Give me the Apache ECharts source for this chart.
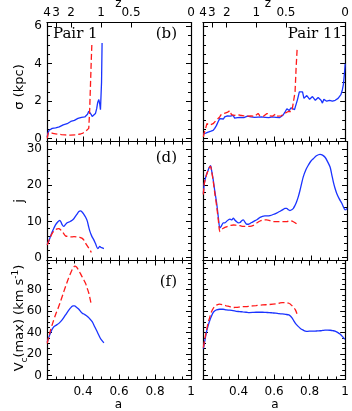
<!DOCTYPE html>
<html>
<head>
<meta charset="utf-8">
<script src="https://cdn.jsdelivr.net/npm/echarts@6/dist/echarts.min.js"></script>
<style>
html, body { margin: 0; padding: 0; background: #fff; }
#chart { width: 352px; height: 411px; }
</style>
</head>
<body>
<div id="chart"></div>
<script>
// bottom axis: scale factor a, top axis: redshift z
const aMajor = [0.2, 0.4, 0.6, 0.8, 1.0]
const aLabels = ['', '0.4', '0.6', '0.8', '1']
const zValues = [4, 3, 2, 1, 0.5, 0]
const zLabels = ['4', '3', '2', '1', '0.5', '0']

// y ticks for the three rows
const sigmaTicks = [0, 2, 4, 6]
const sigmaLabels = ['0', '2', '4', '6']
const jTicks = [0, 10, 20, 30]
const jLabels = ['0', '10', '20', '30']
const vcTicks = [0, 20, 40, 60, 80, 100]
const vcLabels = ['0', '20', '40', '60', '80', '']

const panelNames = ['Pair 1', 'Pair 11']
const panelTags = ['(b)', '(d)', '(f)']

// Pair 1 : [a, value]
const p1SigmaBlue = [[0.201,0.08],[0.205,0.3],[0.212,0.45],[0.222,0.5],[0.229,0.55],[0.238,0.6],[0.248,0.58],[0.258,0.66],[0.268,0.63],[0.278,0.72],[0.29,0.74],[0.3,0.78],[0.312,0.8],[0.322,0.86],[0.332,0.92],[0.342,0.9],[0.352,0.98],[0.362,1.05],[0.372,1.08],[0.382,1.05],[0.392,1.14],[0.402,1.18],[0.41,1.16],[0.418,1.26],[0.425,1.3],[0.432,1.47],[0.438,1.4],[0.445,1.3],[0.451,1.18],[0.458,1.24],[0.469,1.34],[0.476,1.6],[0.482,1.95],[0.488,2.09],[0.493,1.85],[0.497,1.55],[0.501,1.52],[0.503,3.0],[0.506,5.1]]
const p1SigmaRed = [[0.201,0.02],[0.207,0.3],[0.213,0.4],[0.22,0.35],[0.232,0.28],[0.247,0.26],[0.262,0.24],[0.28,0.22],[0.3,0.2],[0.33,0.19],[0.36,0.2],[0.386,0.25],[0.4,0.3],[0.414,0.39],[0.424,0.46],[0.432,0.55],[0.437,1.5],[0.442,3.0],[0.446,4.2],[0.449,5.0]]
const p1JBlue = [[0.201,3.6],[0.21,4.6],[0.219,5.8],[0.228,7.0],[0.238,8.1],[0.248,9.1],[0.257,9.7],[0.265,10.1],[0.271,10.3],[0.278,9.8],[0.284,9.1],[0.293,8.6],[0.302,9.1],[0.312,9.6],[0.326,9.9],[0.34,10.3],[0.35,10.8],[0.358,11.4],[0.368,12.1],[0.377,12.7],[0.386,12.9],[0.395,12.6],[0.404,12.0],[0.414,11.2],[0.423,10.2],[0.43,8.8],[0.438,7.3],[0.448,6.0],[0.46,4.9],[0.47,3.8],[0.482,2.5],[0.488,2.8],[0.493,3.1],[0.5,2.8],[0.507,2.7],[0.516,2.5]]
const p1JRed = [[0.201,3.5],[0.21,4.6],[0.219,5.7],[0.228,6.6],[0.238,7.3],[0.247,7.7],[0.257,7.9],[0.266,8.0],[0.275,7.7],[0.284,7.2],[0.293,6.6],[0.303,6.0],[0.317,5.8],[0.331,5.7],[0.35,5.8],[0.368,5.7],[0.382,5.6],[0.396,5.3],[0.405,4.8],[0.414,4.0],[0.423,3.3],[0.432,2.6],[0.44,2.0],[0.446,1.4]]
const p1VcBlue = [[0.201,31],[0.21,35.5],[0.219,39.5],[0.228,43],[0.238,45.5],[0.252,47],[0.266,48.6],[0.284,51.8],[0.303,56.5],[0.321,61],[0.335,63.8],[0.345,64.9],[0.353,64.9],[0.365,63.5],[0.377,61.8],[0.386,59.8],[0.396,58.1],[0.41,56.8],[0.423,55.3],[0.437,53],[0.451,50.2],[0.465,45.5],[0.479,40.7],[0.488,37.5],[0.497,34.5],[0.507,32.2],[0.516,30.4]]
const p1VcRed = [[0.201,30],[0.21,36],[0.219,42],[0.233,49.5],[0.247,56.5],[0.261,62.5],[0.275,69],[0.289,76],[0.303,83],[0.317,89.5],[0.331,95.5],[0.345,100.5],[0.355,102],[0.365,101],[0.375,98.5],[0.386,95],[0.4,90.5],[0.414,86],[0.423,81.5],[0.432,77],[0.44,71],[0.446,66]]

// Pair 11 : [a, value]
const p11SigmaBlue = [[0.202,0.26],[0.215,0.3],[0.229,0.35],[0.245,0.4],[0.257,0.44],[0.266,0.55],[0.276,0.71],[0.285,0.9],[0.294,1.07],[0.305,1.12],[0.315,1.05],[0.322,1.16],[0.33,1.1],[0.338,1.22],[0.346,1.12],[0.354,1.2],[0.362,1.15],[0.37,1.24],[0.378,1.1],[0.386,1.18],[0.394,1.12],[0.402,1.2],[0.41,1.14],[0.42,1.22],[0.43,1.12],[0.44,1.18],[0.45,1.2],[0.46,1.12],[0.47,1.16],[0.48,1.22],[0.49,1.14],[0.5,1.2],[0.51,1.15],[0.52,1.22],[0.53,1.16],[0.54,1.2],[0.55,1.14],[0.56,1.18],[0.57,1.12],[0.58,1.2],[0.59,1.16],[0.6,1.22],[0.61,1.14],[0.62,1.2],[0.63,1.12],[0.64,1.18],[0.65,1.25],[0.66,1.4],[0.672,1.6],[0.685,1.5],[0.695,1.65],[0.705,1.7],[0.715,1.55],[0.725,1.6],[0.732,2.1],[0.742,2.5],[0.752,2.6],[0.76,2.5],[0.768,2.15],[0.776,2.05],[0.784,2.3],[0.792,2.35],[0.8,2.1],[0.808,2.0],[0.816,2.25],[0.824,2.3],[0.832,2.05],[0.84,1.95],[0.848,2.2],[0.856,2.25],[0.864,2.05],[0.872,1.9],[0.88,2.1],[0.888,2.2],[0.896,2.0],[0.904,1.9],[0.912,2.05],[0.92,2.15],[0.928,2.0],[0.936,1.95],[0.944,2.05],[0.952,2.06],[0.96,2.15],[0.968,2.2],[0.976,2.35],[0.984,2.6],[0.99,2.9],[0.995,3.4],[1.0,4.0]]
const p11SigmaRed = [[0.202,0.1],[0.208,0.35],[0.215,0.55],[0.222,0.8],[0.229,0.75],[0.238,0.72],[0.248,0.78],[0.257,0.8],[0.267,0.9],[0.276,1.0],[0.285,1.1],[0.294,1.16],[0.303,1.3],[0.312,1.22],[0.32,1.35],[0.328,1.25],[0.336,1.4],[0.344,1.3],[0.352,1.5],[0.36,1.28],[0.368,1.38],[0.376,1.25],[0.384,1.35],[0.392,1.28],[0.4,1.3],[0.41,1.25],[0.42,1.35],[0.43,1.22],[0.44,1.3],[0.45,1.2],[0.46,1.28],[0.47,1.22],[0.48,1.3],[0.49,1.2],[0.5,1.26],[0.51,1.35],[0.52,1.22],[0.53,1.3],[0.54,1.2],[0.55,1.28],[0.56,1.35],[0.57,1.22],[0.58,1.3],[0.59,1.2],[0.6,1.25],[0.61,1.32],[0.62,1.2],[0.63,1.28],[0.64,1.22],[0.65,1.3],[0.66,1.35],[0.67,1.4],[0.68,1.45],[0.69,1.4],[0.7,1.45],[0.71,1.52],[0.718,2.5],[0.724,3.8],[0.73,4.85]]
const p11JBlue = [[0.202,17.6],[0.206,20],[0.211,21.4],[0.22,23.0],[0.229,24.2],[0.236,25.0],[0.242,25.4],[0.248,24.0],[0.257,21.4],[0.266,18.2],[0.276,15.0],[0.285,11.2],[0.294,8.2],[0.303,8.8],[0.313,9.6],[0.322,9.6],[0.331,10.0],[0.34,10.4],[0.35,10.6],[0.36,10.4],[0.369,10.9],[0.378,10.3],[0.387,9.9],[0.396,9.6],[0.406,9.7],[0.415,10.2],[0.424,10.4],[0.433,9.8],[0.443,9.2],[0.452,9.2],[0.461,9.4],[0.475,9.8],[0.489,10.2],[0.503,10.6],[0.517,11.1],[0.53,11.4],[0.544,11.5],[0.558,11.5],[0.572,11.6],[0.59,11.9],[0.609,12.3],[0.628,12.8],[0.646,13.3],[0.655,13.6],[0.665,13.6],[0.674,13.2],[0.683,13.0],[0.693,13.2],[0.702,13.6],[0.711,14.4],[0.72,15.4],[0.73,16.9],[0.739,18.6],[0.748,20.5],[0.757,22.3],[0.771,24.2],[0.785,25.5],[0.799,26.6],[0.813,27.3],[0.83,28.1],[0.85,28.5],[0.864,28.3],[0.878,27.7],[0.892,26.5],[0.906,25.0],[0.915,23.0],[0.924,20.9],[0.933,19.2],[0.943,17.7],[0.957,16.2],[0.971,15.0],[0.98,14.0],[0.989,13.2],[0.995,13.3],[1.0,13.6]]
const p11JRed = [[0.202,17.4],[0.206,19.8],[0.211,21.3],[0.22,22.9],[0.229,24.1],[0.236,24.9],[0.242,25.2],[0.248,23.8],[0.257,21.0],[0.266,17.6],[0.276,14.2],[0.285,10.4],[0.294,7.2],[0.303,7.8],[0.313,8.1],[0.325,8.4],[0.34,8.7],[0.355,8.9],[0.369,9.0],[0.387,8.9],[0.406,8.8],[0.424,8.6],[0.443,8.6],[0.461,8.6],[0.48,8.9],[0.498,9.5],[0.517,10.1],[0.535,10.4],[0.554,10.4],[0.572,10.2],[0.59,9.95],[0.609,9.95],[0.628,9.95],[0.646,9.95],[0.665,9.95],[0.683,10.2],[0.702,9.9],[0.72,9.3],[0.73,8.6]]
const p11VcBlue = [[0.202,25],[0.211,33],[0.22,40.8],[0.229,46.5],[0.239,51.8],[0.248,55.5],[0.257,58.7],[0.267,60.3],[0.276,61.2],[0.294,61.8],[0.313,61.8],[0.331,61.2],[0.35,60.9],[0.369,60.5],[0.387,59.9],[0.406,59.6],[0.424,59.3],[0.443,59],[0.461,58.7],[0.48,58.8],[0.498,59.0],[0.517,59.0],[0.535,59.0],[0.554,58.8],[0.572,58.7],[0.59,58.4],[0.609,58.1],[0.628,57.7],[0.646,57.4],[0.665,57.0],[0.683,56.5],[0.693,55.3],[0.702,53.4],[0.711,51],[0.72,48.6],[0.734,46],[0.748,43.9],[0.762,42.5],[0.776,41.4],[0.79,41.2],[0.804,41.4],[0.818,41.3],[0.831,41.4],[0.845,41.6],[0.859,41.7],[0.873,42],[0.887,42.3],[0.901,42.3],[0.915,42.2],[0.929,41.8],[0.943,41.4],[0.957,40.2],[0.971,38.6],[0.985,36.2],[0.998,33.6]]
const p11VcRed = [[0.202,26],[0.211,34.5],[0.22,42.3],[0.229,49],[0.239,54.9],[0.248,59.5],[0.257,62.5],[0.267,64.3],[0.276,65.6],[0.294,66.5],[0.313,65.8],[0.331,65],[0.35,64.2],[0.369,63.4],[0.387,63.6],[0.406,63.9],[0.424,64.2],[0.443,64.3],[0.461,64.6],[0.498,65.2],[0.535,65.8],[0.572,66.2],[0.609,66.8],[0.628,67.4],[0.646,68.0],[0.665,68],[0.683,67.4],[0.693,66.3],[0.702,64.9],[0.711,63.2],[0.72,61.2],[0.73,57]]

const BLUE = '#1a33ff'
const RED = '#ff1a1a'
const FONT = 'DejaVu Sans'

// layout of the 3x2 panels
const colLeft = [47, 203]
const panelW = 144
const rows = [
  { top: 22.5, h: 119, min: -0.15, max: 6.2, major: sigmaTicks, labels: sigmaLabels, step: 0.5,
    blue: [p1SigmaBlue, p11SigmaBlue], red: [p1SigmaRed, p11SigmaRed], smooth: false },
  { top: 141.5, h: 119, min: -0.8, max: 32.05, major: jTicks, labels: jLabels, step: 2,
    blue: [p1JBlue, p11JBlue], red: [p1JRed, p11JRed], smooth: 0.3 },
  { top: 260.5, h: 119, min: -3.8, max: 107.3, major: vcTicks, labels: vcLabels, step: 5,
    blue: [p1VcBlue, p11VcBlue], red: [p1VcRed, p11VcRed], smooth: 0.3 }
]

const zPos = zValues.map(z => 1 / (1 + z))

const minorList = (min, max, step) => {
  const out = []
  for (let v = Math.ceil(min / step) * step; v <= max + 1e-9; v += step) out.push(+v.toFixed(4))
  return out
}
const pick = (vals, labels) => v => {
  const i = vals.findIndex(t => Math.abs(t - v) < 1e-4)
  return i < 0 ? '' : labels[i]
}

const line = { onZero: false, lineStyle: { color: '#000', width: 1.2 } }
const tickStyle = { color: '#000', width: 1 }
const labelStyle = { color: '#000', fontFamily: FONT, fontSize: 12 }

const grid = [], xAxis = [], yAxis = [], series = []

rows.forEach((row, r) => {
  colLeft.forEach((left, c) => {
    const g = grid.length
    grid.push({ left: left, top: row.top, width: panelW, height: row.h })

    // bottom a axis
    const xi = xAxis.length
    xAxis.push({
      gridIndex: g, type: 'value', position: 'bottom', min: 0.2, max: 1, interval: 0.2,
      axisLine: line, splitLine: { show: false },
      axisTick: { inside: true, length: 5, lineStyle: tickStyle },
      minorTick: { show: true, splitNumber: 4, length: 3, lineStyle: tickStyle },
      axisLabel: r === 2
        ? Object.assign({ margin: 6, formatter: pick(aMajor, aLabels) }, labelStyle)
        : { show: false }
    })
    // top axis: z on the first row, mirrored a ticks below
    if (r === 0) {
      xAxis.push({
        gridIndex: g, type: 'value', position: 'top', min: 0.2, max: 1,
        axisLine: line, splitLine: { show: false },
        axisTick: { inside: true, length: 5, lineStyle: tickStyle, customValues: zPos },
        axisLabel: Object.assign({ margin: 4, customValues: zPos, formatter: pick(zPos, zLabels) }, labelStyle)
      })
    } else {
      xAxis.push({
        gridIndex: g, type: 'value', position: 'top', min: 0.2, max: 1, interval: 0.2,
        axisLine: line, splitLine: { show: false },
        axisTick: { inside: true, length: 5, lineStyle: tickStyle },
        minorTick: { show: true, splitNumber: 4, length: 3, lineStyle: tickStyle },
        axisLabel: { show: false }
      })
    }

    const minor = minorList(row.min, row.max, row.step).filter(v => !row.major.includes(v))
    const yi = yAxis.length
    ;['left', 'right'].forEach(pos => {
      yAxis.push({
        gridIndex: g, type: 'value', position: pos, min: row.min, max: row.max,
        axisLine: line, splitLine: { show: false },
        axisTick: { inside: true, length: 5, lineStyle: tickStyle, customValues: row.major },
        axisLabel: (pos === 'left' && c === 0)
          ? Object.assign({ margin: 5, customValues: row.major, formatter: pick(row.major, row.labels) }, labelStyle)
          : { show: false }
      })
      yAxis.push({
        gridIndex: g, type: 'value', position: pos, min: row.min, max: row.max,
        axisLine: { show: false }, splitLine: { show: false },
        axisTick: { inside: true, length: 3, lineStyle: tickStyle, customValues: minor },
        axisLabel: { show: false }
      })
    })

    series.push({
      type: 'line', xAxisIndex: xi, yAxisIndex: yi, data: row.blue[c],
      showSymbol: false, smooth: row.smooth, silent: true,
      lineStyle: { color: BLUE, width: 1.3 }
    })
    series.push({
      type: 'line', xAxisIndex: xi, yAxisIndex: yi, data: row.red[c],
      showSymbol: false, smooth: row.smooth, silent: true,
      lineStyle: { color: RED, width: 1.3, type: [6, 3] }
    })
  })
})

const txt = (x, y, text, align, extra) => ({
  type: 'text', x: x, y: y, silent: true,
  style: Object.assign({
    text: text, fill: '#000', font: '12px ' + FONT,
    align: align, textAlign: align, verticalAlign: 'middle', textVerticalAlign: 'middle'
  }, extra || {})
})
const serif = { font: '15px "DejaVu Serif"' }
const rotTitle = (y, text, rich) => Object.assign(txt(20, y, text, 'center', { font: '13px ' + FONT, rich: rich }), { rotation: Math.PI / 2 })

const graphic = [
  txt(118.5, 4, 'z', 'center'),
  txt(268, 4, 'z', 'center'),
  txt(118.5, 405, 'a', 'center'),
  txt(275, 405, 'a', 'center'),
  txt(53, 34, panelNames[0], 'left', serif),
  txt(342, 34, panelNames[1], 'right', serif),
  txt(177, 34, panelTags[0], 'right', serif),
  txt(177, 158, panelTags[1], 'right', serif),
  txt(177, 282, panelTags[2], 'right', serif),
  rotTitle(87, 'σ (kpc)'),
  rotTitle(201, 'j'),
  rotTitle(318, 'V{sub|c}(max) (km s{sup|-1})', {
    sub: { fontSize: 9, fontFamily: FONT, verticalAlign: 'bottom', lineHeight: 18 },
    sup: { fontSize: 9, fontFamily: FONT, verticalAlign: 'top', lineHeight: 18 }
  })
]

const chart = echarts.init(document.getElementById('chart'), null, { renderer: 'canvas' })
chart.setOption({
  backgroundColor: '#fff',
  animation: false,
  grid: grid,
  xAxis: xAxis,
  yAxis: yAxis,
  series: series,
  graphic: graphic
})
</script>
</body>
</html>
